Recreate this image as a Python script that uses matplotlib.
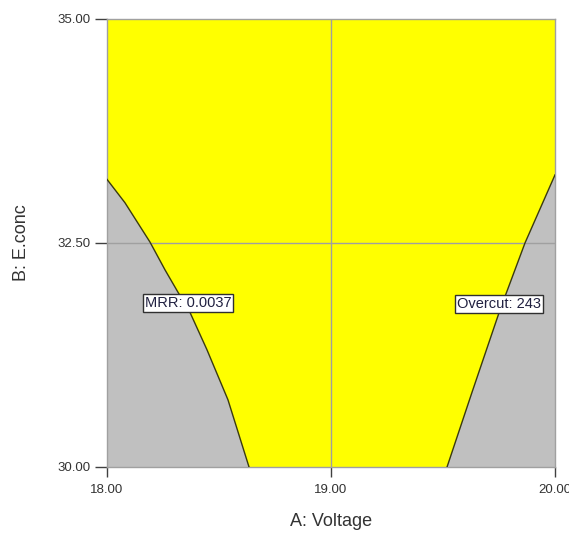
import matplotlib
matplotlib.use("Agg")
import matplotlib.pyplot as plt

plt.rcParams['font.family'] = ['Liberation Sans', 'DejaVu Sans']

# MRR boundary (left edge of the feasible region)
mrr_B = [30.0, 30.75, 31.31, 31.75, 31.95, 32.20, 32.51, 32.95, 33.21]
mrr_A = [18.634, 18.540, 18.446, 18.366, 18.317, 18.259, 18.192, 18.080, 18.0]

# Overcut boundary (right edge of the feasible region)
oc_B = [30.0, 30.83, 31.75, 32.5, 33.26]
oc_A = [19.518, 19.629, 19.754, 19.866, 20.0]

x_ticks = [18.0, 19.0, 20.0]
y_ticks = [30.0, 32.5, 35.0]
x_min, x_max = 18.0, 20.0
y_min, y_max = 30.0, 35.0

labels = ["MRR: 0.0037", "Overcut: 243"]
label_A = [18.362, 19.75]
label_B = [31.83, 31.82]

fig = plt.figure(figsize=(5.69, 5.41), dpi=100)
ax = fig.add_axes([107/569, 1-467/541, 448/569, 448/541])
ax.set_facecolor('#c0c0c0')

# yellow feasible polygon: left curve up to top, across top, right curve down
poly_A = list(mrr_A) + [x_min, x_max] + list(oc_A[::-1])
poly_B = list(mrr_B) + [y_max, y_max] + list(oc_B[::-1])
ax.fill(poly_A, poly_B, color='#ffff00', zorder=1, lw=0)

ax.plot(mrr_A, mrr_B, color='#3a3a10', lw=1.0, zorder=3)
ax.plot(oc_A, oc_B, color='#3a3a10', lw=1.0, zorder=3)

ax.axvline(19.0, color='#a0a0a0', lw=1.0, zorder=2)
ax.axhline(32.5, color='#a0a0a0', lw=1.0, zorder=2)

for t, a, b in zip(labels, label_A, label_B):
    ax.text(a, b, t, ha='center', va='center', fontsize=10.5, color='#202040', zorder=5,
            bbox=dict(boxstyle='square,pad=0.12', fc='white', ec='#303030', lw=1.0))

ax.set_xlim(x_min, x_max)
ax.set_ylim(y_min, y_max)
ax.set_xticks(x_ticks)
ax.set_yticks(y_ticks)
ax.set_xticklabels([f"{v:.2f}" for v in x_ticks])
ax.set_yticklabels([f"{v:.2f}" for v in y_ticks])
ax.tick_params(axis='y', length=8.5, width=1, color='#404040', labelsize=9.5, labelcolor='#333333', pad=3)
ax.tick_params(axis='x', length=7, width=1, color='#404040', labelsize=9.5, labelcolor='#333333', pad=5)
for s in ax.spines.values():
    s.set_color('#a0a0a0')
    s.set_linewidth(1.0)

fig.text(22/569, 1-243/541, "B: E.conc", rotation=90, ha='center', va='center', fontsize=13, color='#333333')
fig.text(331/569, 1-522/541, "A: Voltage", ha='center', va='center', fontsize=13, color='#333333')

fig.savefig("out.png", dpi=100)
